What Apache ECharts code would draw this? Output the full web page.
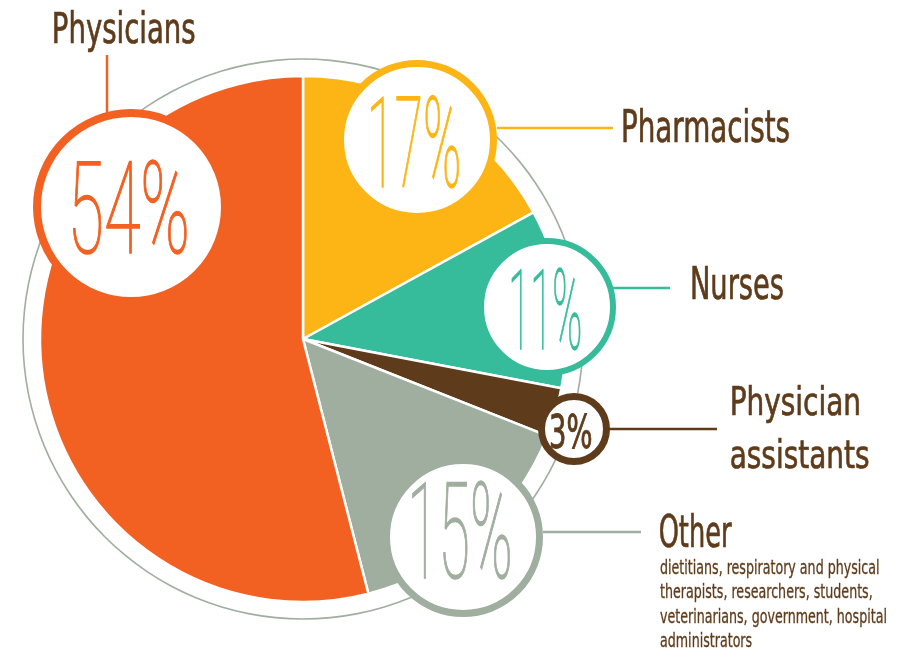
<!DOCTYPE html>
<html><head><meta charset="utf-8">
<script src="https://cdn.jsdelivr.net/npm/echarts@6/dist/echarts.min.js"></script>
<style>html,body{margin:0;padding:0;background:#fff}#c{width:902px;height:653px}</style>
</head><body><div id="c"></div>
<script>
// ---- data ----
const categories = ['Pharmacists', 'Nurses', 'Physician assistants', 'Other', 'Physicians'];
const shares = [17, 11, 3, 15, 54];
const nameLines = [['Pharmacists'], ['Nurses'], ['Physician', 'assistants'], ['Other'], ['Physicians']];
const otherNote = ['dietitians, respiratory and physical', 'therapists, researchers, students,', 'veterinarians, government, hospital', 'administrators'];

// ---- style / layout ----
const palette = ['#FDB515', '#37BC9B', '#5E3B1A', '#A0AE9F', '#F26122'];
const TEXT = '#5E3B1A';
const PIE_C = [303, 339], PIE_R = 263, RING_R = 280;
const NAME_FAMILY = "'DejaVu Sans Condensed','DejaVu Sans',sans-serif";
const PCT_FAMILY = "Roboto,'Noto Sans',sans-serif";
const badges = [
  {cx:417, cy:140, r:80, bw:7, tx:415, ty:143, tw:88, th:93, line:[[497,128],[613,128]], name:{left:623, top:110, base:142, w:166, lh:0}},
  {cx:547, cy:307, r:69, bw:6, tx:546, ty:310, tw:69, th:81, line:[[612,288],[670,288]], name:{left:692, top:267, base:299, w:91, lh:0}},
  {cx:574, cy:429, r:36, bw:7, tx:571, ty:431, tw:41, th:37, bold:true, line:[[607,429],[717,429]], name:{left:732, top:386, base:415, w:127, lh:53}},
  {cx:463, cy:537, r:80, bw:7, tx:461, ty:531, tw:98, th:98, line:[[543,532],[641,532]], name:{left:660, top:515, base:547, w:72, lh:0}},
  {cx:131, cy:207, r:98, bw:8, tx:130, ty:208, tw:114, th:94, line:[[107,113],[107,55]], name:{left:54, top:12, base:43, w:141, lh:0}}
];
const NOTE = {left:660, top:559, base:573.5, w:219, lh:24.6};

const ctx = document.createElement('canvas').getContext('2d');
function measure(font, text, baseline, align) {
  ctx.font = font; ctx.textBaseline = baseline; ctx.textAlign = align;
  return ctx.measureText(text);
}
function pctText(txt, color, font, b, strokeW) {
  const m = measure(font, txt, 'middle', 'center');
  const w = m.actualBoundingBoxLeft + m.actualBoundingBoxRight;
  const h = m.actualBoundingBoxAscent + m.actualBoundingBoxDescent;
  const sx = b.tw / w, sy = b.th / h;
  const cxl = (m.actualBoundingBoxRight - m.actualBoundingBoxLeft) / 2;
  const cyl = (m.actualBoundingBoxDescent - m.actualBoundingBoxAscent) / 2;
  const style = {text:txt, font:font, fill:color, align:'center', verticalAlign:'middle', textAlign:'center', textVerticalAlign:'middle'};
  if (strokeW) { style.stroke = color; style.lineWidth = strokeW; }
  return {type:'text', z:120, x:b.tx - sx * cxl, y:b.ty - sy * cyl, scaleX:sx, scaleY:sy, style:style};
}
// fit a block of left-aligned lines: first line cap from top..base, first line width -> w
function fitLines(lines, weight, family, spec, refGlyph, strokeW) {
  const g = refGlyph || 'H';
  const m0 = measure(weight + ' 100px ' + family, g, 'alphabetic', 'left');
  const fs = (spec.base - spec.top) / (m0.actualBoundingBoxAscent / 100);
  const font = weight + ' ' + fs.toFixed(2) + 'px ' + family;
  const m = measure(font, lines[0], 'middle', 'left');
  const w = m.actualBoundingBoxLeft + m.actualBoundingBoxRight;
  const sx = spec.w / w;
  const mh = measure(font, 'H', 'middle', 'left');
  const baseOff = mh.actualBoundingBoxDescent;
  return lines.map((t, i) => {
    const style = {text:t, font:font, fill:TEXT, align:'left', verticalAlign:'middle', textAlign:'left', textVerticalAlign:'middle'};
    if (strokeW) { style.stroke = TEXT; style.lineWidth = strokeW; }
    return {type:'text', z:120, x:spec.left + sx * m.actualBoundingBoxLeft, y:spec.base + i * spec.lh - baseOff, scaleX:sx, scaleY:1, style:style};
  });
}

const graphics = [];
badges.forEach((b, i) => {
  const col = palette[i];
  graphics.push({type:'polyline', z:105, shape:{points:b.line}, style:{stroke:col, lineWidth:2.5, fill:null}});
  graphics.push({type:'circle', z:110, shape:{cx:b.cx, cy:b.cy, r:b.r - b.bw / 2}, style:{fill:'#fff', stroke:col, lineWidth:b.bw}});
  if (b.bold) {
    graphics.push(pctText(shares[i] + '%', TEXT, "normal 40px " + NAME_FAMILY, b, 0.8));
  } else {
    graphics.push(pctText(shares[i] + '%', col, "100 60px " + PCT_FAMILY, b, 0.7));
  }
  fitLines(nameLines[i], 'normal', NAME_FAMILY, b.name, 'H', 0.7).forEach(e => graphics.push(e));
});
fitLines(otherNote, 'normal', NAME_FAMILY, NOTE, 'd', 0.3).forEach(e => graphics.push(e));

const chart = echarts.init(document.getElementById('c'), null, {renderer:'canvas'});
chart.setOption({
  animation:false,
  backgroundColor:'#fff',
  series:[
    {type:'pie', silent:true, center:PIE_C, radius:[RING_R - 0.8, RING_R + 0.8], startAngle:90, z:1,
      label:{show:false}, labelLine:{show:false}, itemStyle:{color:'#A0AE9F', borderWidth:0},
      data:[{value:1, name:'ring'}]},
    {type:'pie', silent:true, center:PIE_C, radius:[0, PIE_R], startAngle:90, clockwise:true, z:2,
      label:{show:false}, labelLine:{show:false},
      itemStyle:{borderColor:'#fff', borderWidth:2.5},
      data:categories.map((c, i) => ({name:c, value:shares[i], itemStyle:{color:palette[i]}}))}
  ],
  graphic:graphics
});
</script></body></html>
